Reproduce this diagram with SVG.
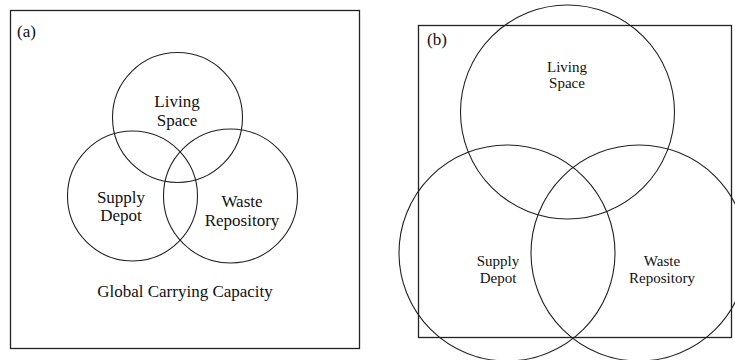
<svg xmlns="http://www.w3.org/2000/svg" width="735" height="360" viewBox="0 0 735 360">
<style>
.frame{fill:none;stroke:#222;stroke-width:1.3}
.c{fill:none;stroke:#222;stroke-width:1.1}
.t{font-family:"Liberation Serif","Times New Roman",serif;fill:#111;text-anchor:middle}
.a{font-size:17px}
.b{font-size:15px}
.lab{font-family:"Liberation Serif","Times New Roman",serif;fill:#111;font-size:17px}
</style>
<rect width="735" height="360" fill="#fff"/>
<g id="panel-a">
  <rect class="frame" x="10.5" y="10.5" width="349" height="338"/>
  <text class="lab" x="17" y="37">(a)</text>
  <g id="a-living"><circle class="c" cx="177.5" cy="117.5" r="65"/>
    <text class="t a" x="177" y="107">Living</text><text class="t a" x="177" y="126">Space</text></g>
  <g id="a-supply"><circle class="c" cx="132.5" cy="196" r="65"/>
    <text class="t a" x="121" y="203">Supply</text><text class="t a" x="121" y="221">Depot</text></g>
  <g id="a-waste"><circle class="c" cx="230.5" cy="196" r="67"/>
    <text class="t a" x="242" y="207">Waste</text><text class="t a" x="242" y="226">Repository</text></g>
  <text class="t a" x="185" y="297">Global Carrying Capacity</text>
</g>
<g id="panel-b">
  <rect class="frame" x="418.5" y="25.5" width="313" height="312"/>
  <text class="lab" x="427" y="45">(b)</text>
  <g id="b-living"><circle class="c" cx="567.5" cy="112" r="107"/>
    <text class="t b" x="567" y="72">Living</text><text class="t b" x="567" y="88">Space</text></g>
  <g id="b-supply"><circle class="c" cx="507" cy="253" r="108"/>
    <text class="t b" x="498" y="266">Supply</text><text class="t b" x="498" y="283">Depot</text></g>
  <g id="b-waste"><circle class="c" cx="639" cy="253" r="108"/>
    <text class="t b" x="662" y="266">Waste</text><text class="t b" x="662" y="283">Repository</text></g>
</g>
<g id="connectors"></g>
</svg>
